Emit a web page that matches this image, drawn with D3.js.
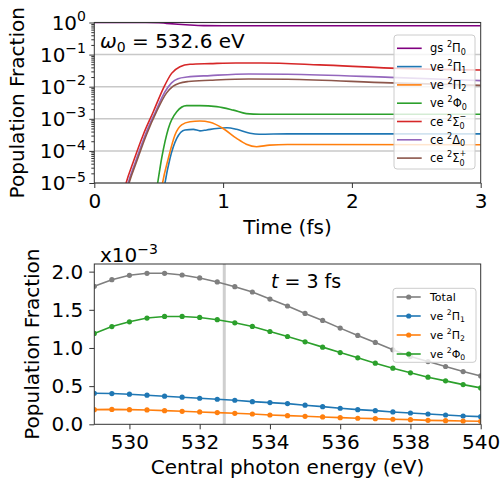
<!DOCTYPE html>
<html>
<head>
<meta charset="utf-8">
<script src="https://cdn.jsdelivr.net/npm/d3@7"></script>
<style>
  body { margin: 0; background: #fff; }
  svg { font-family: "DejaVu Sans", sans-serif; }
  text { white-space: pre; }
</style>
</head>
<body>
<svg id="fig" width="501" height="485"></svg>
<script>
// ---- top panel: populations vs time (log scale) ----
const t_gs = [0, 0.4, 0.5, 0.56, 0.65, 0.74, 0.85, 1.0, 1.5, 2.0, 3.0];
const p_gs = [1.0, 1.0, 0.99, 0.94, 0.88, 0.835, 0.80, 0.79, 0.79, 0.79, 0.79];

const t_vePi1 = [0.52, 0.549, 0.588, 0.64, 0.704, 0.769, 0.82, 0.873, 0.95, 1.03, 1.105, 1.209, 1.28, 1.5, 3.0];
const p_vePi1 = [1.5e-6, 1e-5, 5.9e-5, 2.45e-4, 4.5e-4, 4.7e-4, 4.2e-4, 4.5e-4, 5.0e-4, 5.25e-4, 4.7e-4, 3.55e-4, 3.3e-4, 3.4e-4, 3.4e-4];

const t_vePi2 = [0.5, 0.53, 0.575, 0.627, 0.678, 0.743, 0.82, 0.898, 1.0, 1.105, 1.18, 1.26, 1.36, 1.5, 3.0];
const p_vePi2 = [1.5e-6, 1e-5, 5.9e-5, 3.2e-4, 6.5e-4, 8.1e-4, 8.5e-4, 7.8e-4, 5.0e-4, 2.45e-4, 1.62e-4, 1.35e-4, 1.51e-4, 1.58e-4, 1.55e-4];

const t_vePhi0 = [0.46, 0.492, 0.523, 0.575, 0.64, 0.717, 0.82, 0.95, 1.08, 1.18, 1.29, 2.0, 3.0];
const p_vePhi0 = [1.5e-6, 1e-5, 5.9e-5, 5.0e-4, 1.66e-3, 2.57e-3, 2.57e-3, 2.4e-3, 1.86e-3, 1.45e-3, 1.38e-3, 1.38e-3, 1.38e-3];

const t_ceSigM = [0.2, 0.247, 0.303, 0.38, 0.458, 0.536, 0.60, 0.665, 0.743, 0.9, 1.1, 1.3, 1.75, 2.3, 3.0];
const p_ceSigM = [1.5e-6, 1e-5, 4.6e-5, 3.2e-4, 1.66e-3, 8.9e-3, 0.026, 0.0417, 0.050, 0.0525, 0.055, 0.055, 0.048, 0.038, 0.033];

const t_ceDel = [0.215, 0.263, 0.32, 0.396, 0.475, 0.55, 0.6, 0.65, 0.72, 0.9, 1.2, 1.5, 2.3, 3.0];
const p_ceDel = [1.5e-6, 1e-5, 4.6e-5, 3.2e-4, 1.66e-3, 7.1e-3, 0.0132, 0.0178, 0.020, 0.0222, 0.025, 0.0245, 0.0195, 0.0155];

const t_ceSigP = [0.22, 0.27, 0.328, 0.405, 0.483, 0.56, 0.61, 0.66, 0.73, 0.9, 1.2, 1.5, 2.3, 3.0];
const p_ceSigP = [1.5e-6, 1e-5, 4.6e-5, 3.2e-4, 1.66e-3, 6.3e-3, 0.0102, 0.0129, 0.0145, 0.0158, 0.0174, 0.017, 0.0132, 0.011];

const timeTicks = [0, 1, 2, 3];
const decadeTicks = [1e-5, 1e-4, 1e-3, 1e-2, 1e-1, 1];
const decadeExp = ["\u22125", "\u22124", "\u22123", "\u22122", "\u22121", "0"];

// ---- bottom panel: populations at t = 3 fs vs central energy (x1e-3) ----
const energy = [529, 529.5, 530, 530.5, 531, 531.5, 532, 532.5, 533, 533.5, 534, 534.5,
                535, 535.5, 536, 536.5, 537, 537.5, 538, 538.5, 539, 539.5, 540];
const popTotal = [1.807, 1.895, 1.952, 1.978, 1.978, 1.956, 1.917, 1.865, 1.803, 1.733, 1.641, 1.55,
                  1.452, 1.361, 1.26, 1.164, 1.072, 0.976, 0.888, 0.822, 0.757, 0.691, 0.634];
const popPi1 = [0.407, 0.403, 0.394, 0.381, 0.368, 0.355, 0.341, 0.328, 0.315, 0.297, 0.284, 0.271,
                0.25, 0.231, 0.21, 0.192, 0.179, 0.162, 0.148, 0.135, 0.122, 0.109, 0.1];
const popPi2 = [0.192, 0.195, 0.192, 0.188, 0.179, 0.17, 0.162, 0.153, 0.144, 0.135, 0.122, 0.113,
                0.105, 0.096, 0.087, 0.079, 0.074, 0.066, 0.061, 0.052, 0.048, 0.043, 0.039];
const popPhi0 = [1.19, 1.28, 1.343, 1.392, 1.413, 1.413, 1.40, 1.37, 1.33, 1.282, 1.216, 1.15,
                 1.081, 1.011, 0.94, 0.871, 0.801, 0.735, 0.674, 0.617, 0.569, 0.52, 0.477];
const omega0 = 532.7;
const energyTicks = [530, 532, 534, 536, 538, 540];
const popTicks = [0, 0.5, 1.0, 1.5, 2.0];

// label pieces: [text, kind]
// kind: "" | "sup" | "sub" | "lowsub" + "stack" (sup placed over the preceding sub)
const topSeries = [
    {t: t_gs, p: p_gs, color: "#800080", label: [["gs ", ""], ["2", "sup"], ["\u03a0", ""], ["0", "sub"]]},
    {t: t_vePi1, p: p_vePi1, color: "#1f77b4", label: [["ve ", ""], ["2", "sup"], ["\u03a0", ""], ["1", "sub"]]},
    {t: t_vePi2, p: p_vePi2, color: "#ff7f0e", label: [["ve ", ""], ["2", "sup"], ["\u03a0", ""], ["2", "sub"]]},
    {t: t_vePhi0, p: p_vePhi0, color: "#2ca02c", label: [["ve ", ""], ["2", "sup"], ["\u03a6", ""], ["0", "sub"]]},
    {t: t_ceSigM, p: p_ceSigM, color: "#d62728", label: [["ce ", ""], ["2", "sup"], ["\u03a3", ""], ["0", "lowsub"], ["\u2212", "stack"]]},
    {t: t_ceDel, p: p_ceDel, color: "#9467bd", label: [["ce ", ""], ["2", "sup"], ["\u0394", ""], ["0", "sub"]]},
    {t: t_ceSigP, p: p_ceSigP, color: "#8c564b", label: [["ce ", ""], ["2", "sup"], ["\u03a3", ""], ["0", "lowsub"], ["+", "stack"]]}
];
const botSeries = [
    {y: popTotal, color: "#7f7f7f", label: [["Total", ""]]},
    {y: popPi1, color: "#1f77b4", label: [["ve ", ""], ["2", "sup"], ["\u03a0", ""], ["1", "sub"]]},
    {y: popPi2, color: "#ff7f0e", label: [["ve ", ""], ["2", "sup"], ["\u03a0", ""], ["2", "sub"]]},
    {y: popPhi0, color: "#2ca02c", label: [["ve ", ""], ["2", "sup"], ["\u03a6", ""], ["0", "sub"]]}
];

const shiftOf = {"": 0, "sup": -0.42, "sub": 0.2, "lowsub": 0.3, "stack": -0.55};

let svg = d3.select("#fig");

// one <text> with tspans for super/subscripts
function mathText(parent, x, y, parts, size, anchor, italic) {
    let txt = parent.append("text")
        .attr("x", x).attr("y", y)
        .attr("font-size", size)
        .attr("fill", "#000");
    let curShift = 0, lastW = 0;
    for (let [s, kind] of parts) {
        let small = kind !== "";
        let shift = shiftOf[kind] * size;
        let ts = txt.append("tspan")
            .attr("font-size", small ? size * 0.7 : size)
            .attr("dy", shift - curShift)
            .text(s);
        if (kind === "stack") ts.attr("dx", -lastW);
        if (italic && italic.includes(s)) ts.attr("font-style", "italic");
        lastW = ts.node().getComputedTextLength();
        curShift = shift;
    }
    let w = txt.node().getBBox().width;
    if (anchor === "end") txt.attr("x", x - w);
    else if (anchor === "middle") txt.attr("x", x - w / 2);
    return w;
}

function frame(x0, y0, x1, y1) {
    svg.append("rect")
        .attr("x", x0).attr("y", y0)
        .attr("width", x1 - x0).attr("height", y1 - y0)
        .attr("fill", "none").attr("stroke", "#333").attr("stroke-width", 1);
}

function styleAxis(g) {
    g.select(".domain").remove();
    g.selectAll(".tick line").attr("stroke", "#333");
    g.selectAll(".tick text").attr("font-size", 20).attr("fill", "#000")
        .attr("font-family", "DejaVu Sans");
}

// ================= TOP PANEL =================
let L = 94.3, R = 480.7, T1 = 22.5, B1 = 183;
let xTime = d3.scaleLinear().domain([0, 3]).range([L, R]);
let yLog = d3.scaleLog().domain([1e-5, 1]).range([B1, T1]);

svg.append("clipPath").attr("id", "clipTop")
    .append("rect").attr("x", L).attr("y", T1).attr("width", R - L).attr("height", B1 - T1);

// grid
svg.append("g").selectAll("line").data(decadeTicks).enter()
    .append("line")
    .attr("x1", L).attr("x2", R)
    .attr("y1", d => yLog(d)).attr("y2", d => yLog(d))
    .attr("stroke", "#c8c8c8").attr("stroke-width", 1.5);

let lineTop = d3.line()
    .x(d => xTime(d[0]))
    .y(d => yLog(d[1]))
    .curve(d3.curveMonotoneX);

let topLines = svg.append("g").attr("clip-path", "url(#clipTop)");
topSeries.forEach(s => {
    topLines.append("path")
        .datum(s.t.map((t, i) => [t, s.p[i]]))
        .attr("d", lineTop)
        .attr("fill", "none")
        .attr("stroke", s.color)
        .attr("stroke-width", 1.6);
});

// x axis
let xAxTop = svg.append("g").attr("transform", `translate(0,${B1})`)
    .call(d3.axisBottom(xTime).tickValues(timeTicks).tickFormat(d3.format("d")).tickSize(5).tickPadding(6));
styleAxis(xAxTop);

// y axis: major + minor ticks, labels drawn by hand for the exponents
let minorTicks = [];
for (let e = -5; e < 0; e++) {
    for (let k = 2; k <= 9; k++) minorTicks.push(k * Math.pow(10, e));
}
let yMinor = svg.append("g").attr("transform", `translate(${L},0)`)
    .call(d3.axisLeft(yLog).tickValues(minorTicks).tickFormat("").tickSize(3));
styleAxis(yMinor);
let yMajor = svg.append("g").attr("transform", `translate(${L},0)`)
    .call(d3.axisLeft(yLog).tickValues(decadeTicks).tickFormat("").tickSize(5));
styleAxis(yMajor);
decadeTicks.forEach((d, i) => {
    mathText(svg, 86, yLog(d) + 7, [["10", ""], [decadeExp[i], "sup"]], 20, "end");
});

frame(L, T1, R, B1);

svg.append("text")
    .attr("transform", `translate(24,${(T1 + B1) / 2}) rotate(-90)`)
    .attr("text-anchor", "middle")
    .attr("font-size", 20)
    .text("Population Fraction");
svg.append("text")
    .attr("x", (L + R) / 2).attr("y", 234)
    .attr("text-anchor", "middle")
    .attr("font-size", 20)
    .text("Time (fs)");

// omega annotation
mathText(svg, 100, 48, [["\u03c9", ""], ["0", "sub"], [" = 532.6 eV", ""]], 20, "start", ["\u03c9"]);

// legend (top)
let legTop = svg.append("g");
legTop.append("rect")
    .attr("x", 394).attr("y", 35).attr("width", 81).attr("height", 134).attr("rx", 3)
    .attr("fill", "#fff").attr("fill-opacity", 0.8)
    .attr("stroke", "#ccc").attr("stroke-width", 1);
topSeries.forEach((s, i) => {
    let yy = 48.3 + i * 18.3;
    legTop.append("line")
        .attr("x1", 397).attr("x2", 421.7).attr("y1", yy).attr("y2", yy)
        .attr("stroke", s.color).attr("stroke-width", 1.6);
    mathText(legTop, 430, yy + 4, s.label, 11.5, "start");
});

// ================= BOTTOM PANEL =================
let T2 = 264, B2 = 424.3;
let xE = d3.scaleLinear().domain([529, 540]).range([L, R]);
let yPop = d3.scaleLinear().domain([0, 2.1]).range([B2, T2]);

svg.append("clipPath").attr("id", "clipBot")
    .append("rect").attr("x", L).attr("y", T2).attr("width", R - L).attr("height", B2 - T2);

let botG = svg.append("g").attr("clip-path", "url(#clipBot)");

// marker for the central energy used above
botG.append("line")
    .attr("x1", xE(omega0)).attr("x2", xE(omega0))
    .attr("y1", T2).attr("y2", B2)
    .attr("stroke", "#cfcfcf").attr("stroke-width", 3);

let lineBot = d3.line()
    .x((d, i) => xE(energy[i]))
    .y(d => yPop(d));

botSeries.forEach(s => {
    botG.append("path")
        .datum(s.y)
        .attr("d", lineBot)
        .attr("fill", "none")
        .attr("stroke", s.color)
        .attr("stroke-width", 1.6);
    botG.selectAll(null).data(s.y).enter()
        .append("circle")
        .attr("cx", (d, i) => xE(energy[i]))
        .attr("cy", d => yPop(d))
        .attr("r", 2.6)
        .attr("fill", s.color);
});

let xAxBot = svg.append("g").attr("transform", `translate(0,${B2})`)
    .call(d3.axisBottom(xE).tickValues(energyTicks).tickFormat(d3.format("d")).tickSize(5).tickPadding(6));
styleAxis(xAxBot);
let yAxBot = svg.append("g").attr("transform", `translate(${L},0)`)
    .call(d3.axisLeft(yPop).tickValues(popTicks).tickFormat(d3.format(".1f")).tickSize(5).tickPadding(6));
styleAxis(yAxBot);

frame(L, T2, R, B2);

svg.append("text")
    .attr("transform", `translate(39,${(T2 + B2) / 2}) rotate(-90)`)
    .attr("text-anchor", "middle")
    .attr("font-size", 20)
    .text("Population Fraction");
svg.append("text")
    .attr("x", (L + R) / 2).attr("y", 474)
    .attr("text-anchor", "middle")
    .attr("font-size", 20)
    .text("Central photon energy (eV)");

// offset text and time annotation
mathText(svg, 100, 262, [["x10", ""], ["\u22123", "sup"]], 20, "start");
mathText(svg, 271, 288, [["t", ""], [" = 3 fs", ""]], 19, "start", ["t"]);

// legend (bottom)
let legBot = svg.append("g");
legBot.append("rect")
    .attr("x", 393).attr("y", 288.3).attr("width", 83).attr("height", 74).attr("rx", 3)
    .attr("fill", "#fff").attr("fill-opacity", 0.8)
    .attr("stroke", "#ccc").attr("stroke-width", 1);
botSeries.forEach((s, i) => {
    let yy = 297 + i * 19;
    legBot.append("line")
        .attr("x1", 396.7).attr("x2", 420.7).attr("y1", yy).attr("y2", yy)
        .attr("stroke", s.color).attr("stroke-width", 1.6);
    legBot.append("circle")
        .attr("cx", 408.7).attr("cy", yy).attr("r", 2.6).attr("fill", s.color);
    mathText(legBot, 430, yy + 4, s.label, 11, "start");
});
</script>
</body>
</html>
